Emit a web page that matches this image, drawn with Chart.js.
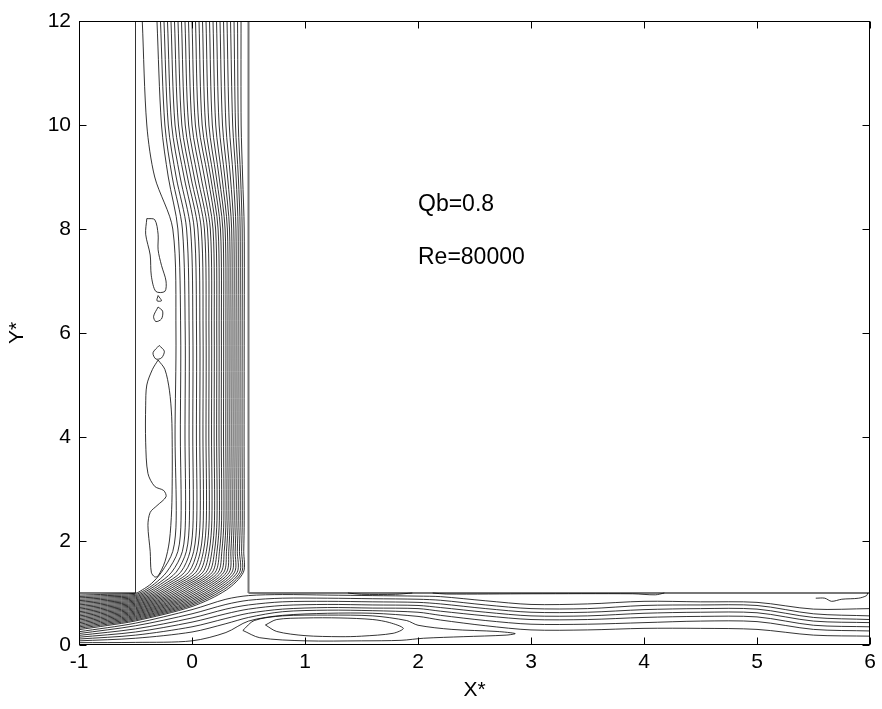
<!DOCTYPE html>
<html>
<head>
<meta charset="utf-8">
<script src="https://cdn.jsdelivr.net/npm/chart.js@4.4.1/dist/chart.umd.min.js"></script>
<style>
  body { margin: 0; background: #fff; }
  #wrap { width: 882px; height: 709px; }
</style>
</head>
<body>
<div id="wrap"><canvas id="myChart" width="882" height="709"></canvas></div>
<script>
// axis ranges / ticks
const xTicks = [-1, 0, 1, 2, 3, 4, 5, 6]
const yTicks = [0, 2, 4, 6, 8, 10, 12]
const notes = ['Qb=0.8', 'Re=80000']
const noteX = 2.0
const noteY = [8.46, 7.44]

// branch contours: x read at fixed heights, left (separated side) to right wall
const bX12 = [-0.44, -0.31, -0.279, -0.248, -0.217, -0.186, -0.155, -0.124, -0.093, -0.062, -0.031, 0.0, 0.031, 0.062, 0.093, 0.124, 0.155, 0.186, 0.217, 0.248, 0.279, 0.31, 0.341, 0.372, 0.403, 0.434]
const bX10 = [-0.40, -0.27, -0.24, -0.21, -0.18, -0.15, -0.12, -0.09, -0.06, -0.03, 0.0, 0.03, 0.06, 0.09, 0.12, 0.15, 0.18, 0.21, 0.24, 0.27, 0.30, 0.33, 0.36, 0.385, 0.41, 0.435]
const bX9 = [-0.33, -0.21, -0.175, -0.14, -0.105, -0.07, -0.04, -0.01, 0.02, 0.05, 0.08, 0.11, 0.14, 0.165, 0.19, 0.215, 0.24, 0.265, 0.29, 0.315, 0.34, 0.365, 0.39, 0.41, 0.43, 0.448]
const bX8 = [-0.17, -0.125, -0.085, -0.048, -0.013, 0.02, 0.052, 0.082, 0.11, 0.137, 0.162, 0.186, 0.209, 0.231, 0.252, 0.273, 0.293, 0.313, 0.332, 0.351, 0.37, 0.389, 0.408, 0.426, 0.444, 0.462]
const bX6 = [-0.142, -0.10, -0.06, -0.025, 0.008, 0.04, 0.07, 0.098, 0.125, 0.15, 0.174, 0.197, 0.219, 0.24, 0.26, 0.28, 0.30, 0.318, 0.336, 0.354, 0.372, 0.39, 0.408, 0.426, 0.444, 0.462]
const bX4 = [-0.15, -0.103, -0.062, -0.026, 0.007, 0.039, 0.069, 0.097, 0.124, 0.149, 0.173, 0.196, 0.218, 0.239, 0.259, 0.279, 0.299, 0.317, 0.335, 0.353, 0.371, 0.389, 0.407, 0.425, 0.443, 0.461]
const bX24 = [-0.14, -0.097, -0.058, -0.023, 0.01, 0.042, 0.072, 0.1, 0.127, 0.152, 0.176, 0.199, 0.221, 0.242, 0.262, 0.282, 0.301, 0.319, 0.337, 0.355, 0.373, 0.391, 0.409, 0.427, 0.445, 0.462]
const bX18 = [-0.17, -0.125, -0.085, -0.05, -0.017, 0.015, 0.045, 0.074, 0.101, 0.127, 0.152, 0.176, 0.199, 0.221, 0.243, 0.264, 0.285, 0.305, 0.325, 0.344, 0.363, 0.382, 0.401, 0.42, 0.439, 0.458]
const bX14 = [-0.27, -0.225, -0.18, -0.14, -0.10, -0.065, -0.03, 0.003, 0.035, 0.066, 0.096, 0.125, 0.153, 0.18, 0.206, 0.232, 0.257, 0.282, 0.306, 0.33, 0.354, 0.377, 0.40, 0.422, 0.44, 0.455]
// junction: two points on the turn, then y at x=-0.5, x=-0.75 and the inlet x=-1
const jdX = [-0.36, -0.333, -0.307, -0.28, -0.253, -0.227, -0.2, -0.173, -0.147, -0.12, -0.094, -0.067, -0.04, -0.014, 0.013, 0.04, 0.066, 0.093, 0.12, 0.146, 0.173, 0.199, 0.226, 0.252, 0.279, 0.305]
const jdY = [1.18, 1.175, 1.17, 1.165, 1.16, 1.155, 1.15, 1.145, 1.14, 1.135, 1.13, 1.125, 1.12, 1.115, 1.11, 1.105, 1.10, 1.095, 1.09, 1.085, 1.08, 1.076, 1.072, 1.068, 1.064, 1.06]
const jcX = [-0.44, -0.422, -0.405, -0.387, -0.37, -0.352, -0.334, -0.317, -0.299, -0.282, -0.264, -0.246, -0.229, -0.211, -0.194, -0.176, -0.158, -0.141, -0.123, -0.106, -0.088, -0.07, -0.053, -0.035, -0.018, 0.0]
const jcY = [1.06, 1.047, 1.034, 1.022, 1.009, 0.996, 0.983, 0.97, 0.958, 0.945, 0.932, 0.919, 0.906, 0.894, 0.881, 0.868, 0.855, 0.842, 0.83, 0.817, 0.804, 0.791, 0.778, 0.766, 0.753, 0.74]
const wallY = [0.995, 0.974, 0.952, 0.931, 0.91, 0.889, 0.867, 0.846, 0.825, 0.803, 0.782, 0.761, 0.74, 0.718, 0.697, 0.676, 0.654, 0.633, 0.612, 0.591, 0.569, 0.548, 0.527, 0.506, 0.484, 0.463]
const midY = [0.975, 0.951, 0.927, 0.903, 0.879, 0.855, 0.831, 0.807, 0.783, 0.759, 0.735, 0.711, 0.687, 0.663, 0.639, 0.615, 0.591, 0.567, 0.543, 0.519, 0.495, 0.471, 0.447, 0.423, 0.399, 0.375]
const inletY = [0.96, 0.933, 0.907, 0.88, 0.854, 0.827, 0.801, 0.774, 0.747, 0.721, 0.694, 0.668, 0.641, 0.615, 0.588, 0.561, 0.535, 0.508, 0.482, 0.455, 0.429, 0.402, 0.375, 0.349, 0.322, 0.295]

// main channel contours (through flow), y read at these x
const mainX = [-1, -0.5, 0, 0.3, 0.5, 0.8, 1.2, 1.6, 2.0, 2.2, 2.6, 3.0, 3.5, 4, 4.5, 5, 5.5, 6]
const mainY1 = [0.255, 0.42, 0.68, 0.88, 0.95, 0.97, 0.96, 0.95, 0.94, 0.93, 0.85, 0.78, 0.79, 0.84, 0.83, 0.82, 0.69, 0.70]
const mainY2 = [0.22, 0.37, 0.60, 0.78, 0.86, 0.90, 0.90, 0.89, 0.88, 0.86, 0.77, 0.70, 0.70, 0.76, 0.77, 0.76, 0.60, 0.56]
const mainY3 = [0.185, 0.31, 0.52, 0.69, 0.77, 0.83, 0.84, 0.83, 0.82, 0.79, 0.70, 0.63, 0.63, 0.68, 0.70, 0.69, 0.53, 0.49]
const mainY4 = [0.15, 0.25, 0.44, 0.60, 0.69, 0.76, 0.78, 0.77, 0.76, 0.72, 0.63, 0.56, 0.56, 0.61, 0.63, 0.62, 0.46, 0.43]
const mainY5 = [0.115, 0.19, 0.35, 0.51, 0.61, 0.69, 0.72, 0.71, 0.70, 0.65, 0.56, 0.49, 0.49, 0.53, 0.55, 0.54, 0.38, 0.35]
const mainY6 = [0.08, 0.13, 0.25, 0.41, 0.53, 0.64, 0.67, 0.66, 0.63, 0.57, 0.47, 0.40, 0.40, 0.43, 0.46, 0.45, 0.30, 0.27]
const mainY7 = [0.045, 0.05, 0.08, 0.24, 0.46, 0.57, 0.61, 0.61, 0.55, 0.48, 0.37, 0.29, 0.29, 0.32, 0.32, 0.30, 0.19, 0.17]

// closed recirculation contours
const bubbleIn = [[0.65, 0.385], [0.75, 0.49], [1.0, 0.52], [1.31, 0.52], [1.6, 0.49], [1.75, 0.43], [1.87, 0.32], [1.78, 0.225], [1.5, 0.17], [1.31, 0.16], [1.0, 0.18], [0.75, 0.26], [0.65, 0.385]]
const bubbleOut = [[0.45, 0.28], [0.6, 0.14], [1.0, 0.08], [1.5, 0.08], [1.85, 0.09], [2.05, 0.13], [2.4, 0.16], [2.78, 0.19], [2.86, 0.22], [2.7, 0.26], [2.3, 0.30], [2.0, 0.38], [1.9, 0.47], [1.6, 0.56], [1.2, 0.575], [0.8, 0.56], [0.55, 0.47], [0.45, 0.28]]
const wallLoop1 = [[1.38, 1.0], [1.5, 0.975], [1.8, 0.975], [1.95, 1.0]]
const wallLoop2 = [[2.13, 1.0], [2.25, 0.98], [3.0, 0.985], [3.9, 0.985], [4.1, 0.965], [4.18, 1.0]]
const wallLoop3 = [[5.52, 0.9], [5.6, 0.9], [5.66, 0.84], [5.75, 0.88], [5.9, 0.9], [5.97, 0.95], [5.98, 1.0]]
const loopA = [[-0.40, 8.2], [-0.33, 8.18], [-0.30, 7.9], [-0.30, 7.6], [-0.27, 7.3], [-0.23, 7.0], [-0.24, 6.8], [-0.32, 6.8], [-0.36, 7.1], [-0.37, 7.5], [-0.41, 7.9], [-0.40, 8.2]]
const tinyTri = [[-0.30, 6.72], [-0.27, 6.62], [-0.31, 6.62], [-0.30, 6.72]]
const tinyLoop = [[-0.30, 6.5], [-0.26, 6.42], [-0.27, 6.27], [-0.32, 6.22], [-0.34, 6.32], [-0.30, 6.5]]
const circle = [[-0.29, 5.76], [-0.245, 5.65], [-0.27, 5.52], [-0.32, 5.5], [-0.345, 5.62], [-0.29, 5.76]]
const loopB = [[-0.30, 5.48], [-0.24, 5.3], [-0.20, 4.9], [-0.18, 4.4], [-0.175, 3.8], [-0.175, 3.2], [-0.18, 2.6], [-0.2, 2.0], [-0.24, 1.6], [-0.30, 1.33], [-0.33, 1.31], [-0.36, 1.4], [-0.37, 1.8], [-0.39, 2.3], [-0.37, 2.55], [-0.31, 2.68], [-0.23, 2.85], [-0.25, 2.97], [-0.33, 3.05], [-0.39, 3.3], [-0.41, 3.9], [-0.41, 4.6], [-0.40, 5.0], [-0.35, 5.3], [-0.30, 5.48]]

// walls of the T junction
const walls = [
  [[-0.5, 1], [-0.5, 12]],
  [[0.5, 1], [0.5, 12]],
  [[-1, 1], [-0.5, 1]],
  [[0.5, 1], [6, 1]]
]

let datasets = []

function addLine(pts, color, width, tension) {
  datasets.push({
    data: pts.map(p => ({ x: p[0], y: p[1] })),
    showLine: true,
    borderColor: color,
    borderWidth: width,
    pointRadius: 0,
    tension: tension,
    fill: false
  })
}

for (let i = 0; i < bX12.length; i++) {
  addLine([
    [bX12[i], 12], [bX10[i], 10], [bX9[i], 9], [bX8[i], 8], [bX6[i], 6], [bX4[i], 4],
    [bX24[i], 2.4], [bX18[i], 1.8], [bX14[i], 1.4], [jdX[i], jdY[i]], [jcX[i], jcY[i]],
    [-0.5, wallY[i]], [-0.75, midY[i]], [-1, inletY[i]]
  ], '#000', 0.8, 0.3)
}

const mainYs = [mainY1, mainY2, mainY3, mainY4, mainY5, mainY6, mainY7]
mainYs.forEach(ys => {
  addLine(mainX.map((x, k) => [x, ys[k]]), '#000', 0.8, 0.3)
})

;[bubbleIn, bubbleOut, wallLoop1, wallLoop2, wallLoop3, loopA, tinyTri, tinyLoop, circle, loopB].forEach(l => {
  addLine(l, '#000', 0.8, 0.3)
})

walls.forEach((w, i) => addLine(w, i == 0 ? '#333' : '#777', i == 0 ? 1 : 2, 0))

// frame, inward ticks and the two notes
const framePlugin = {
  id: 'framePlugin',
  afterDraw(chart) {
    const ctx = chart.ctx
    const a = chart.chartArea
    const xs = chart.scales.x
    const ys = chart.scales.y
    const L = Math.round(a.left) + 0.5, R = Math.round(a.right) - 0.5
    const T = Math.round(a.top) + 0.5, B = Math.round(a.bottom) - 0.5
    ctx.save()
    ctx.strokeStyle = '#000'
    ctx.lineWidth = 1
    ctx.strokeRect(L, T, R - L, B - T)
    ctx.beginPath()
    xs.ticks.forEach(t => {
      const px = Math.round(xs.getPixelForValue(t.value)) + 0.5
      ctx.moveTo(px, B); ctx.lineTo(px, B - 7)
      ctx.moveTo(px, T); ctx.lineTo(px, T + 7)
    })
    ys.ticks.forEach(t => {
      const py = Math.round(ys.getPixelForValue(t.value)) + 0.5
      ctx.moveTo(L, py); ctx.lineTo(L + 7, py)
      ctx.moveTo(R, py); ctx.lineTo(R - 7, py)
    })
    ctx.stroke()
    ctx.fillStyle = '#000'
    ctx.font = '23px "Liberation Sans", Arial, sans-serif'
    ctx.textBaseline = 'middle'
    ctx.textAlign = 'left'
    notes.forEach((n, i) => {
      ctx.fillText(n, xs.getPixelForValue(noteX), ys.getPixelForValue(noteY[i]))
    })
    ctx.restore()
  }
}

const tickFont = { family: '"Liberation Sans", Arial, sans-serif', size: 21 }

const config = {
  type: 'scatter',
  data: { datasets: datasets },
  options: {
    responsive: false,
    animation: false,
    devicePixelRatio: 1,
    layout: { padding: { top: 21, right: 12, left: 0, bottom: 0 } },
    plugins: { legend: { display: false }, tooltip: { enabled: false } },
    scales: {
      x: {
        type: 'linear',
        min: -1,
        max: 6,
        afterBuildTicks: s => { s.ticks = xTicks.map(v => ({ value: v })) },
        grid: { display: false, drawTicks: false },
        border: { display: false },
        ticks: { color: '#000', font: tickFont, padding: 5, maxRotation: 0 },
        title: { display: true, text: 'X*', color: '#000', font: tickFont, padding: { top: 0, bottom: 6 } },
        afterFit: s => { s.height = 64 }
      },
      y: {
        type: 'linear',
        min: 0,
        max: 12,
        afterBuildTicks: s => { s.ticks = yTicks.map(v => ({ value: v })) },
        grid: { display: false, drawTicks: false },
        border: { display: false },
        ticks: { color: '#000', font: tickFont, padding: 8 },
        title: { display: true, text: 'Y*', color: '#000', font: tickFont, padding: { top: 5, bottom: 0 } },
        afterFit: s => { s.width = 79 }
      }
    }
  },
  plugins: [framePlugin]
}

new Chart(document.getElementById('myChart'), config)
</script>
</body>
</html>
